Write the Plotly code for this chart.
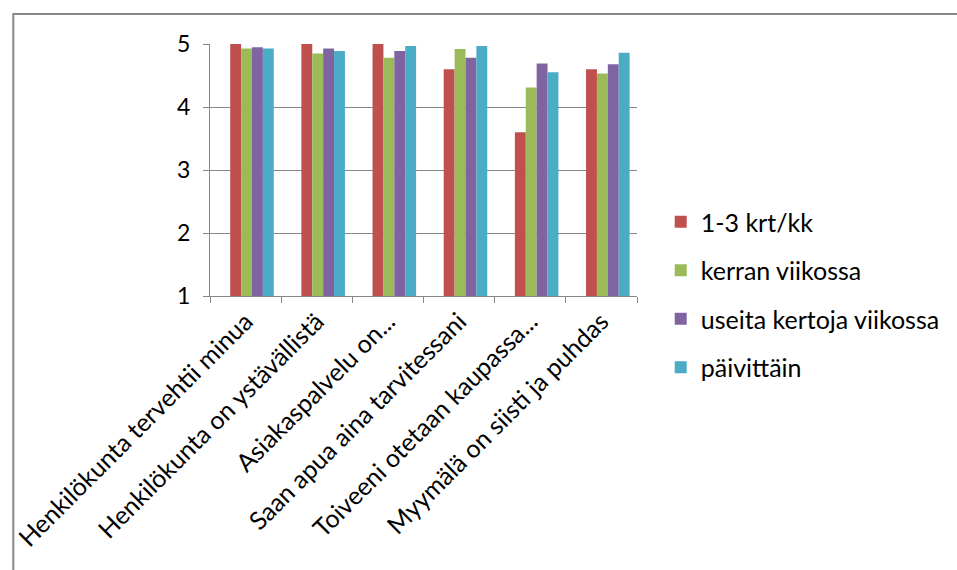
import plotly.graph_objects as go

categories = [
    "Henkilökunta tervehtii minua",
    "Henkilökunta on ystävällistä",
    "Asiakaspalvelu on...",
    "Saan apua aina tarvitessani",
    "Toiveeni otetaan kaupassa...",
    "Myymälä on siisti ja puhdas",
]
series_names = ["1-3 krt/kk", "kerran viikossa", "useita kertoja viikossa", "päivittäin"]
s1 = [5.00, 5.00, 5.00, 4.60, 3.60, 4.60]
s2 = [4.93, 4.85, 4.78, 4.92, 4.31, 4.53]
s3 = [4.95, 4.93, 4.89, 4.78, 4.69, 4.68]
s4 = [4.93, 4.89, 4.97, 4.97, 4.55, 4.86]
colors = ["#C0504D", "#9BBB59", "#8064A2", "#4BACC6"]

FONT = "Lato, 'Open Sans', sans-serif"

BAR_W = 0.153
START = -0.216

fig = go.Figure()
for i, (name, vals) in enumerate(zip(series_names, [s1, s2, s3, s4])):
    fig.add_trace(go.Bar(
        x=categories, y=vals, name=name,
        marker=dict(color=colors[i], line=dict(width=0)),
        width=BAR_W, offset=START + i * BAR_W,
        legendgroup=f"g{i}",
    ))

L, R, T, B = 208, 957 - 640, 44, 570 - 296
W, H = 957 - L - R, 570 - T - B

fig.update_layout(
    width=957, height=570,
    margin=dict(l=L, r=R, t=T, b=B, pad=0),
    paper_bgcolor="white", plot_bgcolor="white",
    barmode="overlay",
    font=dict(family=FONT, color="#000000", size=24),
    legend=dict(
        x=(664 - L) / W, xanchor="left",
        y=(296 - 199) / H, yanchor="top",
        font=dict(size=25, family=FONT),
        traceorder="grouped", tracegroupgap=13,
        bgcolor="rgba(0,0,0,0)",
    ),
    showlegend=True,
    shapes=[dict(
        type="rect", xref="paper", yref="paper",
        x0=(9 - L) / W, x1=(1100 - L) / W,
        y0=-(700 - 296) / H, y1=1 + (44 - 14) / H,
        line=dict(color="#878787", width=2), fillcolor="rgba(0,0,0,0)", layer="below",
    )],
)

fig.update_yaxes(
    range=[1, 5], dtick=1, tick0=1,
    showgrid=True, gridcolor="#878787", gridwidth=1,
    showline=True, linecolor="#878787", linewidth=1,
    ticks="outside", ticklen=6, tickcolor="#878787",
    ticklabelstandoff=8,
    tickfont=dict(size=23, family=FONT),
    zeroline=False,
)
fig.update_xaxes(
    showline=True, linecolor="#878787", linewidth=1,
    ticks="outside", ticklen=6, tickcolor="#878787",
    tickson="boundaries", tickangle=-45,
    tickfont=dict(size=25, family=FONT),
    showgrid=False,
)

fig.write_html("out.html")
